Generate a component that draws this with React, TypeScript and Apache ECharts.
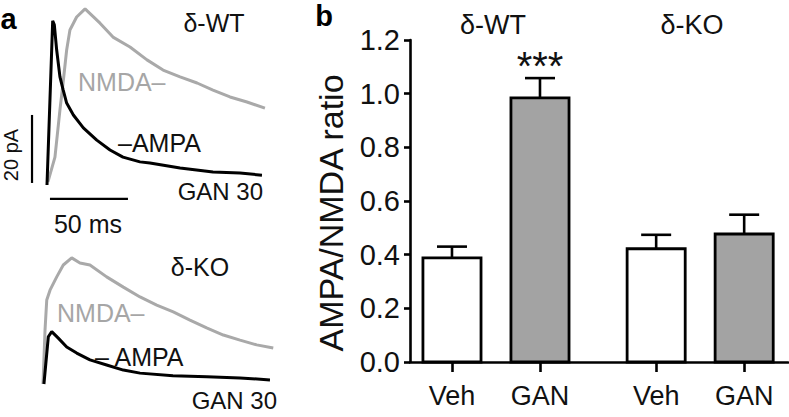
import React, { useEffect, useRef } from "react";
import * as echarts from "echarts";

// ---- Panel b data ----
const genotypes = ["δ-WT", "δ-KO"];
const conditions = ["Veh", "GAN"];
const ratioMean = [
  [0.388, 0.984],
  [0.422, 0.477],
];
const ratioSem = [
  [0.042, 0.074],
  [0.052, 0.072],
];
const yTickMax = 1.2;
const yTickStep = 0.2;
const yTitle = "AMPA/NMDA ratio";
const significance = ["", "***", "", ""];

// ---- Panel a traces: [time (ms), current (pA)] ----
const wtAmpa: number[][] = [
  [0, 0], [3.65, 48.3], [4.7, 47.1], [6.2, 39.7], [8.3, 31.8], [10.4, 27.9],
  [12.6, 24.1], [16.9, 20.6], [23.3, 16.8], [31.9, 13.2], [40.4, 10.3],
  [48.7, 8.2], [59.6, 6.8], [66, 6.5], [85.3, 5.0], [106.4, 3.8],
  [123.7, 3.5], [137.8, 2.9],
];
const wtNmda: number[][] = [
  [0.6, 0.9], [5.1, 8.2], [8.3, 22.1], [10.3, 30], [12.6, 39.7], [14.7, 45.6],
  [19, 49.4], [24.4, 51.8], [34.0, 47.6], [42.3, 43.5], [53.2, 40.6],
  [64.1, 36.8], [74.4, 33.8], [85.3, 31.8], [96.2, 30.0], [106.4, 27.9],
  [117.3, 25.9], [128.2, 24.4], [139.7, 22.6],
];
const koNmda: number[][] = [
  [0, 0], [1.3, 15.9], [2.4, 24.7], [4.5, 27.6], [8.8, 31.5], [13.0, 35],
  [18.4, 37.1], [23.7, 35.6], [30.1, 35], [40.8, 31.5], [51.5, 28.5],
  [62.2, 25.6], [72.9, 23.2], [83.5, 21.2], [94.2, 18.8], [104.9, 16.5],
  [115.6, 14.4], [126.3, 12.9], [137, 11.5], [147.6, 10.6],
];
const koAmpa: number[][] = [
  [0.6, 0], [3.4, 13.9], [5.6, 15.4], [9.8, 13.5], [15.2, 10.9], [21.6, 9.1],
  [30.1, 7.1], [40.8, 5.6], [51.5, 4.1], [62.2, 3.2], [83.3, 2.4],
  [105, 2.1], [126.3, 1.8], [145.5, 1.2],
];
const scaleBarMs = 50;
const scaleBarPA = 20;

const FONT = "'Liberation Sans', Arial, Helvetica, sans-serif";
const GRAY_TRACE = "#a9a9a9";
const GAN_FILL = "#a3a3a3";

export default function App() {
  const ref = useRef<HTMLDivElement>(null);

  useEffect(() => {
    if (!ref.current) return;
    const chart = echarts.init(ref.current, undefined, { renderer: "svg" });

    const groupGap = 2.32;
    const barUnits = 0.66;
    const barData: number[][] = [];
    const xTicks: number[] = [];
    const xLabels: string[] = [];
    genotypes.forEach((_, g) => {
      conditions.forEach((c, ci) => {
        const x = g * groupGap + ci;
        barData.push([x, ratioMean[g][ci], ratioSem[g][ci], ci]);
        xTicks.push(x);
        xLabels.push(c);
      });
    });
    const sigData = barData
      .map((d, i) => [d[0], d[1] + d[2], i])
      .filter((d) => significance[d[2]] !== "");

    // Scale bar placement in trace coordinates
    const vBarT = -9.6;
    const vBarI0 = 0.6;
    const hBarT0 = 1.9;
    const hBarI = -4.1;

    const traceX = { type: "value", show: false, min: -12, max: 150 };
    const traceY = { type: "value", show: false, min: -6, max: 54 };
    const lineBase = {
      type: "line",
      symbol: "none",
      showSymbol: false,
      clip: false,
      silent: true,
    };

    const textStyle = (
      text: string,
      x: number,
      y: number,
      size: number,
      align: string,
      fill = "#111",
      weight = "normal",
      rotation = 0
    ) => ({
      type: "text",
      x,
      y,
      rotation,
      style: {
        text,
        fill,
        font: `${weight} ${size}px ${FONT}`,
        align,
        verticalAlign: "middle",
        textAlign: align,
        textVerticalAlign: "middle",
      },
    });

    chart.setOption({
      animation: false,
      backgroundColor: "#ffffff",
      grid: [
        { left: 410, top: 40, width: 378, height: 322 },
        { left: 28.28, top: 1.4, width: 252.72, height: 204 },
        { left: 24.28, top: 200.4, width: 252.72, height: 204 },
      ],
      xAxis: [
        {
          type: "value",
          gridIndex: 0,
          min: -0.477,
          max: 3.818,
          splitLine: { show: false },
          axisLine: { show: true, onZero: false, lineStyle: { color: "#000", width: 2.6 } },
          axisTick: {
            show: true,
            customValues: xTicks,
            length: 10,
            inside: false,
            lineStyle: { color: "#000", width: 2.6 },
          },
          axisLabel: {
            customValues: xTicks,
            margin: 20,
            fontSize: 27,
            fontFamily: FONT,
            color: "#111",
            formatter: (v: number) => {
              const i = xTicks.findIndex((p) => Math.abs(p - v) < 1e-6);
              return i >= 0 ? xLabels[i] : "";
            },
          },
        },
        { ...traceX, gridIndex: 1 },
        { ...traceX, gridIndex: 2 },
      ],
      yAxis: [
        {
          type: "value",
          gridIndex: 0,
          min: 0,
          max: yTickMax,
          interval: yTickStep,
          splitLine: { show: false },
          axisLine: { show: true, onZero: false, lineStyle: { color: "#000", width: 2.6 } },
          axisTick: { show: true, length: 6, lineStyle: { color: "#000", width: 2.6 } },
          axisLabel: {
            margin: 10,
            fontSize: 29,
            fontFamily: FONT,
            color: "#111",
            formatter: (v: number) => v.toFixed(1),
          },
        },
        { ...traceY, gridIndex: 1 },
        { ...traceY, gridIndex: 2 },
      ],
      series: [
        {
          type: "custom",
          xAxisIndex: 0,
          yAxisIndex: 0,
          data: barData,
          encode: { x: 0, y: 1 },
          renderItem: (params: any, api: any) => {
            const x = api.value(0);
            const m = api.value(1);
            const s = api.value(2);
            const c = api.value(3);
            const base = api.coord([x, 0]);
            const top = api.coord([x, m]);
            const et = api.coord([x, m + s]);
            const w = api.size([barUnits, 0])[0];
            return {
              type: "group",
              children: [
                {
                  type: "line",
                  shape: { x1: top[0], y1: top[1], x2: et[0], y2: et[1] },
                  style: { stroke: "#000", lineWidth: 2.6 },
                },
                {
                  type: "line",
                  shape: { x1: et[0] - 15, y1: et[1], x2: et[0] + 15, y2: et[1] },
                  style: { stroke: "#000", lineWidth: 2.6 },
                },
                {
                  type: "rect",
                  shape: { x: base[0] - w / 2, y: top[1], width: w, height: base[1] - top[1] },
                  style: { fill: c === 0 ? "#ffffff" : GAN_FILL, stroke: "#000", lineWidth: 2.8 },
                },
              ],
            };
          },
        },
        {
          type: "custom",
          xAxisIndex: 0,
          yAxisIndex: 0,
          data: sigData,
          encode: { x: 0, y: 1 },
          renderItem: (params: any, api: any) => {
            const p = api.coord([api.value(0), api.value(1)]);
            return {
              type: "text",
              x: p[0],
              y: p[1] + 8,
              style: {
                text: significance[api.value(2)],
                fill: "#111",
                font: `40px ${FONT}`,
                align: "center",
                verticalAlign: "bottom",
                textAlign: "center",
                textVerticalAlign: "bottom",
              },
            };
          },
        },
        { ...lineBase, xAxisIndex: 1, yAxisIndex: 1, data: wtNmda, lineStyle: { color: GRAY_TRACE, width: 3 } },
        { ...lineBase, xAxisIndex: 1, yAxisIndex: 1, data: wtAmpa, lineStyle: { color: "#000", width: 3 } },
        { ...lineBase, xAxisIndex: 2, yAxisIndex: 2, data: koNmda, lineStyle: { color: GRAY_TRACE, width: 3 } },
        { ...lineBase, xAxisIndex: 2, yAxisIndex: 2, data: koAmpa, lineStyle: { color: "#000", width: 3 } },
        {
          ...lineBase,
          xAxisIndex: 1,
          yAxisIndex: 1,
          data: [[vBarT, vBarI0], [vBarT, vBarI0 + scaleBarPA]],
          lineStyle: { color: "#000", width: 2.2 },
        },
        {
          ...lineBase,
          xAxisIndex: 1,
          yAxisIndex: 1,
          data: [[hBarT0, hBarI], [hBarT0 + scaleBarMs, hBarI]],
          lineStyle: { color: "#000", width: 2.2 },
        },
      ],
      graphic: [
        textStyle("a", 8.5, 19, 29, "center", "#000", "bold"),
        textStyle("b", 324, 16, 29, "center", "#000", "bold"),
        textStyle(yTitle, 331, 213, 34, "center", "#111", "normal", Math.PI / 2),
        textStyle(genotypes[0], 493, 25, 27, "center"),
        textStyle(genotypes[1], 692, 25, 27, "center"),
        textStyle(genotypes[0], 214, 23, 25, "center"),
        textStyle("NMDA–", 78, 82, 25, "left", "#a6a6a6"),
        textStyle("–AMPA", 118, 143, 25, "left"),
        textStyle("GAN 30", 263, 191, 24, "right"),
        textStyle(`${scaleBarMs} ms`, 88, 224, 25, "center"),
        textStyle(`${scaleBarPA} pA`, 11, 155, 20, "center", "#111", "normal", Math.PI / 2),
        textStyle(genotypes[1], 200, 267, 25, "center"),
        textStyle("NMDA–", 57, 313, 25, "left", "#a6a6a6"),
        textStyle("– AMPA", 95, 357, 25, "left"),
        textStyle("GAN 30", 277, 400, 24, "right"),
      ],
    });

    return () => chart.dispose();
  }, []);

  return (
    <div
      ref={ref}
      style={{ position: "absolute", left: 0, top: 0, width: 789, height: 417, background: "#fff" }}
    />
  );
}
